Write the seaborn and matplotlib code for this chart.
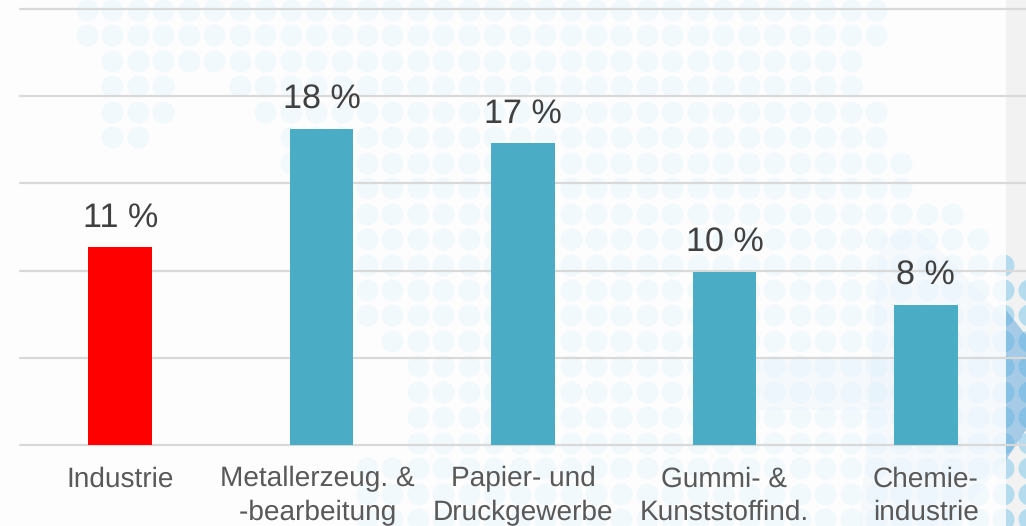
import numpy as np
import pandas as pd
import matplotlib.pyplot as plt
from matplotlib.patches import Polygon, Rectangle
import seaborn as sns

branchen = ["Industrie", "Metallerzeug. & \n-bearbeitung ", "Papier- und\nDruckgewerbe",
            "Gummi- &\nKunststoffind.", "Chemie-\nindustrie"]
anteil = [11.35, 18.15, 17.35, 9.9, 8.0]
anteil_labels = ["11 %", "18 %", "17 %", "10 %", "8 %"]
farben = ["#ff0000", "#4bacc6", "#4bacc6", "#4bacc6", "#4bacc6"]
y_ticks = [0, 5, 10, 15, 20, 25]

# dot map in the background: (first column, last column) per row
punkt_reihen = [
    [(0, 31)], [(0, 31)], [(1, 30)], [(1, 3), (6, 30)], [(1, 3), (7, 31)], [(1, 2), (8, 31)],
    [(8, 32)], [(10, 32)], [(10, 34)], [(10, 35)], [(11, 36)], [(11, 37)], [(11, 37)],
    [(12, 37)], [(13, 37)], [(13, 37)], [(13, 37)], [(13, 37)], [(11, 37)], [(11, 37)], [(11, 37)],
]

sns.set_style("white")
plt.rcParams['font.family'] = ['Liberation Sans', 'DejaVu Sans']
plt.rcParams['text.hinting'] = 'no_hinting'

fig = plt.figure(figsize=(10.26, 5.26), dpi=100, facecolor="#fdfdfd")

# background layer in pixel coordinates
bg = fig.add_axes([0, 0, 1, 1], zorder=0)
bg.set_xlim(0, 1026)
bg.set_ylim(526, 0)
bg.axis("off")

punkt_x = []
punkt_y = []
for r, reihe in enumerate(punkt_reihen):
    for start, ende in reihe:
        for c in range(start, ende + 1):
            punkt_x.append(87 + 25.45 * c)
            punkt_y.append(10 + 25.45 * r)

streifen = Rectangle((1006, 0), 20, 526, facecolor="#f2f2f2", edgecolor="none", zorder=1)
bg.add_patch(streifen)
bg.scatter(punkt_x, punkt_y, s=250, color="#f1f9fd", linewidths=0, zorder=2)
dunkel = bg.scatter(punkt_x, punkt_y, s=250, color="#b4dcee", linewidths=0, zorder=3)
dunkel.set_clip_path(Rectangle((1006, 0), 20, 526, transform=bg.transData))

# faint shapes behind the dots
bg.add_patch(Polygon([(880, 240), (915, 228), (945, 255), (1006, 320), (1006, 460), (950, 526), (860, 526)],
                     facecolor="#dcecf8", edgecolor="none", alpha=0.2, zorder=4))
bg.add_patch(Rectangle((757, 357), 140, 53, facecolor="#dcecf8", edgecolor="none", alpha=0.2, zorder=4))
bg.add_patch(Polygon([(1006, 310), (1026, 335), (1026, 430), (1006, 460)],
                     facecolor="#5aa5dc", edgecolor="none", alpha=0.5, zorder=4))

# chart
ax = fig.add_axes([19.5 / 1026, (526 - 444.5) / 526, 1007 / 1026, 435 / 526], zorder=1)
ax.patch.set_alpha(0)

df = pd.DataFrame({"branche": branchen, "anteil": anteil})
sns.barplot(data=df, x="branche", y="anteil", hue="branche", palette=farben, saturation=1,
            width=0.315, legend=False, linewidth=0, ax=ax)

for container, label in zip(ax.containers, anteil_labels):
    ax.bar_label(container, labels=[label], padding=9.5, fontsize=24.6, color="#404040")

ax.set_xlim(-0.5, 4.5)
ax.set_ylim(0, 25)
ax.set_yticks(y_ticks)
ax.set_yticklabels([])
ax.set_xlabel("")
ax.set_ylabel("")
ax.set_axisbelow(True)
ax.yaxis.grid(True, color="#d9d9d9", linewidth=1.6)
for linie in ax.yaxis.get_gridlines():
    linie.set_clip_on(False)
ax.tick_params(axis="both", length=0)
ax.tick_params(axis="x", labelsize=20.2, labelcolor="#595959", pad=15.5)
for tick in ax.get_xticklabels():
    tick.set_linespacing(1.36)
sns.despine(ax=ax, left=True, bottom=True)

fig.savefig("out.png", dpi=100, facecolor=fig.get_facecolor())
